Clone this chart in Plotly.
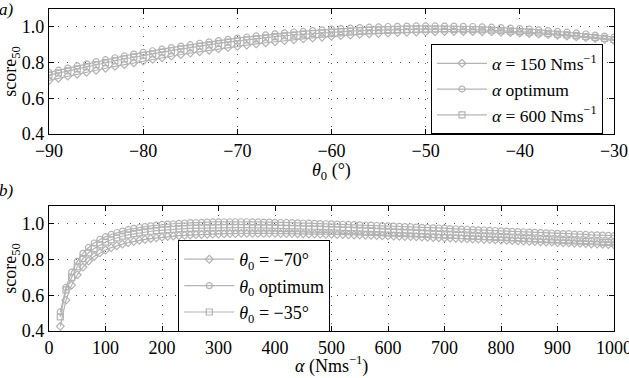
import plotly.graph_objects as go

# ---------------- data ----------------
theta0 = list(range(-90, -29))  # degrees

top_alpha150 = [0.700, 0.712, 0.724, 0.735, 0.746, 0.757, 0.768, 0.779, 0.789, 0.799,
                0.809, 0.818, 0.827, 0.836, 0.845, 0.853, 0.861, 0.869, 0.877, 0.884,
                0.891, 0.898, 0.905, 0.911, 0.917, 0.923, 0.928, 0.933, 0.938, 0.942,
                0.947, 0.951, 0.954, 0.958, 0.961, 0.963, 0.966, 0.968, 0.970, 0.971,
                0.972, 0.973, 0.974, 0.974, 0.974, 0.974, 0.973, 0.972, 0.970, 0.968,
                0.966, 0.963, 0.960, 0.957, 0.953, 0.949, 0.945, 0.940, 0.935, 0.930,
                0.924]
top_alpha_opt = [0.745, 0.757, 0.769, 0.781, 0.793, 0.805, 0.816, 0.827, 0.837, 0.847,
                 0.857, 0.866, 0.875, 0.884, 0.892, 0.900, 0.908, 0.916, 0.923, 0.930,
                 0.937, 0.943, 0.949, 0.955, 0.961, 0.966, 0.971, 0.975, 0.979, 0.983,
                 0.987, 0.990, 0.993, 0.996, 0.998, 1.000, 1.002, 1.003, 1.004, 1.005,
                 1.005, 1.005, 1.004, 1.004, 1.003, 1.002, 1.000, 0.998, 0.996, 0.993,
                 0.990, 0.987, 0.983, 0.979, 0.975, 0.970, 0.965, 0.960, 0.954, 0.948,
                 0.942]
top_alpha600 = [0.730, 0.742, 0.754, 0.765, 0.777, 0.788, 0.799, 0.810, 0.820, 0.830,
                0.840, 0.849, 0.858, 0.867, 0.875, 0.884, 0.892, 0.899, 0.907, 0.914,
                0.921, 0.927, 0.933, 0.939, 0.945, 0.950, 0.954, 0.959, 0.963, 0.966,
                0.970, 0.973, 0.976, 0.978, 0.980, 0.982, 0.984, 0.985, 0.986, 0.987,
                0.987, 0.987, 0.987, 0.986, 0.985, 0.984, 0.983, 0.981, 0.979, 0.976,
                0.973, 0.970, 0.967, 0.963, 0.959, 0.955, 0.951, 0.946, 0.941, 0.935,
                0.929]

alpha = list(range(20, 1001, 10))  # Nms^-1

bot_theta_m70 = [0.426, 0.573, 0.657, 0.715, 0.758, 0.792, 0.818, 0.838, 0.854, 0.867,
                 0.878, 0.887, 0.895, 0.902, 0.908, 0.913, 0.918, 0.922, 0.926, 0.929,
                 0.932, 0.934, 0.936, 0.938, 0.940, 0.941, 0.942, 0.943, 0.944, 0.945,
                 0.946, 0.946, 0.947, 0.947, 0.947, 0.947, 0.947, 0.947, 0.947, 0.946,
                 0.946, 0.946, 0.945, 0.945, 0.944, 0.944, 0.943, 0.942, 0.942, 0.941,
                 0.940, 0.939, 0.938, 0.938, 0.937, 0.936, 0.935, 0.934, 0.933, 0.932,
                 0.931, 0.930, 0.929, 0.928, 0.927, 0.925, 0.924, 0.923, 0.922, 0.921,
                 0.920, 0.918, 0.917, 0.916, 0.915, 0.913, 0.912, 0.911, 0.910, 0.908,
                 0.907, 0.906, 0.904, 0.903, 0.902, 0.900, 0.899, 0.898, 0.896, 0.895,
                 0.894, 0.892, 0.891, 0.890, 0.888, 0.887, 0.886, 0.884, 0.883]
bot_theta_opt = [0.507, 0.644, 0.730, 0.790, 0.835, 0.868, 0.893, 0.913, 0.929, 0.941,
                 0.952, 0.960, 0.968, 0.975, 0.980, 0.985, 0.989, 0.993, 0.997, 0.999,
                 1.001, 1.003, 1.005, 1.007, 1.008, 1.009, 1.010, 1.011, 1.011, 1.012,
                 1.012, 1.012, 1.012, 1.012, 1.011, 1.011, 1.010, 1.010, 1.009, 1.008,
                 1.008, 1.007, 1.006, 1.005, 1.004, 1.003, 1.002, 1.001, 1.000, 0.999,
                 0.998, 0.997, 0.996, 0.995, 0.994, 0.993, 0.991, 0.990, 0.989, 0.988,
                 0.986, 0.985, 0.984, 0.982, 0.981, 0.980, 0.978, 0.977, 0.976, 0.974,
                 0.973, 0.971, 0.970, 0.968, 0.967, 0.966, 0.964, 0.963, 0.961, 0.960,
                 0.958, 0.957, 0.956, 0.954, 0.953, 0.951, 0.950, 0.949, 0.947, 0.946,
                 0.945, 0.943, 0.942, 0.941, 0.939, 0.938, 0.937, 0.936, 0.934]
bot_theta_m35 = [0.479, 0.630, 0.700, 0.760, 0.805, 0.838, 0.862, 0.882, 0.898, 0.911,
                 0.922, 0.931, 0.939, 0.945, 0.950, 0.955, 0.959, 0.962, 0.965, 0.968,
                 0.970, 0.972, 0.974, 0.975, 0.976, 0.977, 0.978, 0.978, 0.979, 0.979,
                 0.979, 0.979, 0.979, 0.979, 0.978, 0.978, 0.977, 0.977, 0.976, 0.975,
                 0.974, 0.974, 0.973, 0.972, 0.971, 0.970, 0.969, 0.968, 0.967, 0.966,
                 0.964, 0.963, 0.962, 0.961, 0.959, 0.958, 0.957, 0.955, 0.954, 0.953,
                 0.951, 0.950, 0.948, 0.947, 0.945, 0.944, 0.942, 0.941, 0.939, 0.938,
                 0.936, 0.935, 0.933, 0.932, 0.930, 0.929, 0.927, 0.926, 0.924, 0.923,
                 0.921, 0.920, 0.918, 0.917, 0.915, 0.914, 0.912, 0.911, 0.909, 0.908,
                 0.906, 0.905, 0.903, 0.902, 0.900, 0.899, 0.897, 0.896, 0.894]

top_names = ["<i>α</i> = 150 Nms<sup>−1</sup>", "<i>α</i> optimum", "<i>α</i> = 600 Nms<sup>−1</sup>"]
bot_names = ["<i>θ</i><sub>0</sub> = −70°", "<i>θ</i><sub>0</sub> optimum", "<i>θ</i><sub>0</sub> = −35°"]
y_ticks = [0.4, 0.6, 0.8, 1.0]
top_x_ticks = [-90, -80, -70, -60, -50, -40, -30]
bot_x_ticks = list(range(0, 1001, 100))

assert len(theta0) == len(top_alpha150) == len(top_alpha_opt) == len(top_alpha600)
assert len(alpha) == len(bot_theta_m70) == len(bot_theta_opt) == len(bot_theta_m35)

# ---------------- style ----------------
LINE = "#b3b3b3"
FONT = "Liberation Serif"
symbols = ["diamond-open", "circle-open", "square-open"]

fig = go.Figure()
for name, ys, sym in zip(top_names, [top_alpha150, top_alpha_opt, top_alpha600], symbols):
    fig.add_trace(go.Scatter(x=theta0, y=ys, name=name, mode="lines+markers",
                             line=dict(color=LINE, width=1.2),
                             marker=dict(symbol=sym, size=6, color=LINE, line=dict(width=1.2, color=LINE)),
                             xaxis="x", yaxis="y", legend="legend"))
for name, ys, sym in zip(bot_names, [bot_theta_m70, bot_theta_opt, bot_theta_m35], symbols):
    fig.add_trace(go.Scatter(x=alpha, y=ys, name=name, mode="lines+markers",
                             line=dict(color=LINE, width=1.2),
                             marker=dict(symbol=sym, size=6, color=LINE, line=dict(width=1.2, color=LINE)),
                             xaxis="x2", yaxis="y2", legend="legend2"))

axis_common = dict(showline=True, linecolor="black", linewidth=1.2, mirror="ticks",
                   ticks="inside", ticklen=5, tickcolor="black", automargin=False,
                   ticklabeloverflow="allow",
                   showgrid=True, gridcolor="#555555", griddash="1px,8px", gridwidth=1,
                   zeroline=False, tickfont=dict(family=FONT, size=18, color="black"))

legend_common = dict(bgcolor="white", bordercolor="black", borderwidth=1,
                     font=dict(family=FONT, size=18, color="black"), itemwidth=50,
                     tracegroupgap=0)

TITLE_FONT = dict(family=FONT, size=18, color="black")

fig.update_layout(
    width=629, height=378,
    margin=dict(l=49, r=15, t=9, b=47),
    paper_bgcolor="white", plot_bgcolor="white",
    font=dict(family=FONT, color="black"),
    xaxis=dict(axis_common, domain=[0, 1], range=[-90, -30], tickvals=top_x_ticks,
               anchor="y"),
    yaxis=dict(axis_common, domain=[0.612, 1.0], range=[0.4, 1.1], tickvals=y_ticks,
               tickformat=".1f", anchor="x",
               title=dict(text="score<sub>50</sub>", font=TITLE_FONT, standoff=2)),
    xaxis2=dict(axis_common, domain=[0, 1], range=[0, 1000], tickvals=bot_x_ticks,
                anchor="y2"),
    yaxis2=dict(axis_common, domain=[0.0, 0.388], range=[0.4, 1.1], tickvals=y_ticks,
                tickformat=".1f", anchor="x2",
                title=dict(text="score<sub>50</sub>", font=TITLE_FONT, standoff=2)),
    legend=dict(legend_common, font=dict(family=FONT, size=17.5, color="black"),
                x=0.9805, xanchor="right", y=0.89, yanchor="top"),
    legend2=dict(legend_common, x=0.2288, xanchor="left", y=0.2826, yanchor="top"),
    annotations=[
        # x-axis titles
        dict(text="<i>θ</i><sub>0</sub> (°)", x=0.5, y=0.4938, xref="paper", yref="paper",
             xanchor="center", yanchor="middle", showarrow=False, font=TITLE_FONT),
        dict(text="<i>α</i> (Nms<sup>−1</sup>)", x=0.5, y=-0.107, xref="paper", yref="paper",
             xanchor="center", yanchor="middle", showarrow=False, font=TITLE_FONT),
        # panel labels
        dict(text="<i>a)</i>", x=0, y=1.0, xref="paper", yref="paper", xshift=-52, yshift=11,
             xanchor="left", yanchor="top", showarrow=False, font=dict(family=FONT, size=17)),
        dict(text="<i>b)</i>", x=0, y=0.388, xref="paper", yref="paper", xshift=-52, yshift=27,
             xanchor="left", yanchor="top", showarrow=False, font=dict(family=FONT, size=17)),
    ],
    showlegend=True,
)

fig.write_html("out.html")
